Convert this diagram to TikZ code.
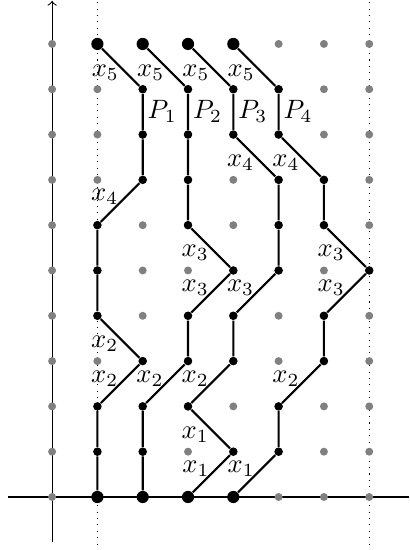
\documentclass[tikz,border=0pt]{standalone}
\usetikzlibrary{arrows}
\newcommand{\xlab}[1]{$x_{#1}$}
\newcommand{\plab}[1]{$P_{#1}$}
\tikzset{
  gdot/.style={circle, fill=gray, inner sep=0pt, minimum size=3pt},
  bdot/.style={circle, fill=black, inner sep=0pt, minimum size=3.2pt},
  enddot/.style={circle, fill=black, inner sep=0pt, minimum size=4.6pt},
  lpath/.style={thick},
  labup/.style={left, inner sep=0.3pt, yshift=2pt},
  labdn/.style={left, inner sep=0.3pt, yshift=-2pt},
  pname/.style={right, inner sep=1.5pt}
}

\begin{document}
\begin{tikzpicture}[x=0.6cm, y=0.6cm]
  \useasboundingbox (-1.15,-1.17) rectangle (7.88,10.97);
  % axes and dotted guides
  \draw (-0.97,0) -- (7.88,0);
  \draw[->] (0,-1) -- (0,10.95);
  \draw[dotted] (1,-1.05) -- (1,10.97);
  \draw[dotted] (7,-1.05) -- (7,10.97);
  % lattice
  \foreach \i in {0,...,7}
    \foreach \j in {0,...,10}
      \node[gdot] (g-\i-\j) at (\i,\j) {};

  % path P1
  \node[enddot] (a0) at (1,0) {};
  \foreach \c [count=\r] in {1,1,2,1,1,1,2,2,2}
    \node[bdot] (a\r) at (\c,\r) {};
  \node[enddot] (a10) at (1,10) {};
  \draw[lpath] (a0) -- (a1) -- (a2) -- node[labup] {\xlab{2}} (a3)
    -- node[labdn] {\xlab{2}} (a4) -- (a5) -- (a6)
    -- node[labup] {\xlab{4}} (a7) -- (a8) -- node[pname] {\plab{1}} (a9)
    -- node[labdn] {\xlab{5}} (a10);

  % path P2
  \node[enddot] (b0) at (2,0) {};
  \foreach \c [count=\r] in {2,2,3,3,4,3,3,3,3}
    \node[bdot] (b\r) at (\c,\r) {};
  \node[enddot] (b10) at (2,10) {};
  \draw[lpath] (b0) -- (b1) -- (b2) -- node[labup] {\xlab{2}} (b3) -- (b4)
    -- node[labup] {\xlab{3}} (b5) -- node[labdn] {\xlab{3}} (b6)
    -- (b7) -- (b8) -- node[pname] {\plab{2}} (b9)
    -- node[labdn] {\xlab{5}} (b10);

  % path P3
  \node[enddot] (c0) at (3,0) {};
  \foreach \c [count=\r] in {4,3,4,4,5,5,5,4,4}
    \node[bdot] (c\r) at (\c,\r) {};
  \node[enddot] (c10) at (3,10) {};
  \draw[lpath] (c0) -- node[labup] {\xlab{1}} (c1) -- node[labdn] {\xlab{1}} (c2)
    -- node[labup] {\xlab{2}} (c3) -- (c4) -- node[labup] {\xlab{3}} (c5)
    -- (c6) -- (c7) -- node[labdn] {\xlab{4}} (c8)
    -- node[pname] {\plab{3}} (c9) -- node[labdn] {\xlab{5}} (c10);

  % path P4
  \node[enddot] (d0) at (4,0) {};
  \foreach \c [count=\r] in {5,5,6,6,7,6,6,5,5}
    \node[bdot] (d\r) at (\c,\r) {};
  \node[enddot] (d10) at (4,10) {};
  \draw[lpath] (d0) -- node[labup] {\xlab{1}} (d1) -- (d2)
    -- node[labup] {\xlab{2}} (d3) -- (d4) -- node[labup] {\xlab{3}} (d5)
    -- node[labdn] {\xlab{3}} (d6) -- (d7) -- node[labdn] {\xlab{4}} (d8)
    -- node[pname] {\plab{4}} (d9) -- node[labdn] {\xlab{5}} (d10);
\end{tikzpicture}
\end{document}
